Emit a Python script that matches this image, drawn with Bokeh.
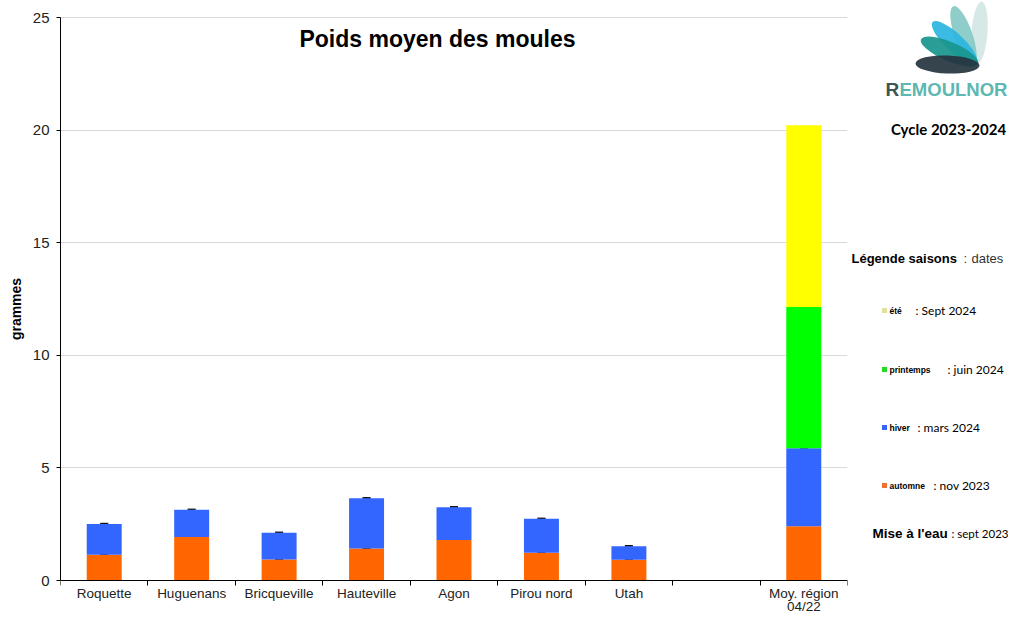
import numpy as np
from bokeh.plotting import figure
from bokeh.models import Range1d, FixedTicker, Label, ColumnDataSource, Whisker, TeeHead, LinearAxis
from bokeh.layouts import row
from bokeh.embed import file_html
from bokeh.resources import INLINE
from bokeh.core.properties import value

# ---------------- data ----------------
sites = ["Roquette", "Huguenans", "Bricqueville", "Hauteville", "Agon",
         "Pirou nord", "Utah", "", "Moy. région\n04/22"]
# segment heights (g) per season
automne = [1.14, 1.93, 0.93, 1.42, 1.80, 1.23, 0.92, 0.0, 2.41]
hiver = [1.37, 1.21, 1.19, 2.23, 1.45, 1.51, 0.60, 0.0, 3.46]
printemps = [0.0, 0.0, 0.0, 0.0, 0.0, 0.0, 0.0, 0.0, 6.27]
ete = [0.0, 0.0, 0.0, 0.0, 0.0, 0.0, 0.0, 0.0, 8.07]
err_automne = [0.03, 0.03, 0.03, 0.03, 0.03, 0.03, 0.03, 0.0, 0.0]
err_hiver = [0.03, 0.03, 0.03, 0.03, 0.03, 0.03, 0.03, 0.0, 0.55]
y_ticks = [0, 5, 10, 15, 20, 25]
y_max = 25

saisons = ["automne", "hiver", "printemps", "ete"]
colors = ["#FF6600", "#3366FF", "#00FF00", "#FFFF00"]

legend_names = ["été", "printemps", "hiver", "automne"]
legend_dates = [": Sept 2024", ":  juin 2024", ": mars 2024", ": nov 2023"]
legend_colors = ["#dfe39a", "#22dd22", "#3366FF", "#F07030"]

FONT = "Liberation Sans"
FONT2 = "Lato"

# ---------------- layout geometry (pixels) ----------------
W1, H = 850, 617
FRAME_L, FRAME_R, TOP_Y, ZERO_Y = 60, 847, 17, 580
ppu = (ZERO_Y - TOP_Y) / y_max
y_start = -(H - ZERO_Y) / ppu
y_end = y_max + TOP_Y / ppu

n = len(sites)
xc = np.arange(n) + 0.5
src = ColumnDataSource(dict(x=xc, automne=automne, hiver=hiver,
                            printemps=printemps, ete=ete))

p = figure(width=W1, height=H, x_range=Range1d(0, n), y_range=Range1d(y_start, y_end),
           output_backend="svg", toolbar_location=None, x_axis_location=None,
           min_border_left=FRAME_L, min_border_right=W1 - FRAME_R,
           min_border_top=0, min_border_bottom=0)
p.outline_line_color = None
p.background_fill_color = "white"
p.border_fill_color = "white"

p.vbar_stack(saisons, x="x", width=0.4, color=colors, source=src, line_width=0)

# error bars on top of segments
a = np.array(automne)
h = np.array(hiver)
ea = np.array(err_automne)
eh = np.array(err_hiver)
tops = np.concatenate([a, a + h])
errs = np.concatenate([ea, eh])
xs = np.concatenate([xc, xc])
mask = errs > 0
wsrc = ColumnDataSource(dict(x=xs[mask], lower=tops[mask], upper=(tops + errs)[mask]))
p.add_layout(Whisker(source=wsrc, base="x", lower="lower", upper="upper",
                     dimension="height", line_color="black", line_width=1,
                     upper_head=TeeHead(size=8, line_color="black", line_width=1),
                     lower_head=TeeHead(size=8, line_color="black", line_width=1)))

# grid
p.xgrid.visible = False
p.ygrid.grid_line_color = "#d9d9d9"
p.ygrid.ticker = FixedTicker(ticks=y_ticks)

# x axis fixed at y = 0
xaxis = LinearAxis(fixed_location=0, bounds=(0, n))
xaxis.ticker = FixedTicker(ticks=list(xc), minor_ticks=list(range(n + 1)))
xaxis.major_label_overrides = {float(x): s for x, s in zip(xc, sites)}
xaxis.major_tick_in = 0
xaxis.major_tick_out = 0
xaxis.minor_tick_in = 0
xaxis.minor_tick_out = 5
xaxis.minor_tick_line_color = "black"
xaxis.axis_line_color = "black"
xaxis.major_label_standoff = 0
xaxis.major_label_text_font = FONT
xaxis.major_label_text_font_size = "13.5px"
xaxis.major_label_text_line_height = 0.9
xaxis.major_label_text_color = "#222222"
p.add_layout(xaxis, "below")

p.yaxis.bounds = (0, y_max)
p.yaxis.ticker = FixedTicker(ticks=y_ticks)
p.yaxis.major_tick_in = 0
p.yaxis.major_tick_out = 4
p.yaxis.minor_tick_line_color = None
p.yaxis.axis_line_color = "black"
p.yaxis.major_tick_line_color = "black"
p.yaxis.major_label_standoff = 7
p.yaxis.major_label_text_font = FONT
p.yaxis.major_label_text_font_size = "15px"
p.yaxis.major_label_text_color = "#222222"
p.yaxis.axis_label = "grammes"
p.yaxis.axis_label_text_font = FONT
p.yaxis.axis_label_text_font_style = "bold"
p.yaxis.axis_label_text_font_size = "14px"
p.yaxis.axis_label_standoff = 6
p.yaxis.axis_label_text_color = "black"

p.add_layout(Label(x=437 - FRAME_L, y=H - 38, x_units="screen", y_units="screen",
                   text="Poids moyen des moules", text_align="center",
                   text_baseline="middle", text_font=FONT, text_font_style="bold",
                   text_font_size="23px", text_color="black"))

# ---------------- right panel ----------------
W2 = 1008 - W1
p2 = figure(width=W2, height=H, x_range=Range1d(0, W2), y_range=Range1d(0, H),
            output_backend="svg", toolbar_location=None, min_border=0,
            x_axis_location=None, y_axis_location=None)
p2.grid.visible = False
p2.outline_line_color = None


def X(rx):
    return rx - W1


def Y(ry):
    return H - ry


# logo
lx = [979, 963, 954, 949, 947]
ly = [32, 35, 42, 51, 64]
lw = [62, 62, 60, 62, 64]
lh = [16, 18, 18, 19, 18]
la = [86, 109, 137, 157, 178]
lc = ["#d3e7e5", "#86c9c6", "#2ab5e0", "#17958d", "#25343f"]
p2.ellipse(x=[X(v) for v in lx], y=[Y(v) for v in ly], width=lw, height=lh,
           angle=la, angle_units="deg", fill_color=lc, line_color=None,
           fill_alpha=0.92)
p2.text(x=[X(885)], y=[Y(89)], text=["R"], text_font=value(FONT),
        text_font_style="bold", text_font_size="19px", text_color="#3b5656",
        text_align="left", text_baseline="middle")
p2.text(x=[X(899)], y=[Y(89)], text=["EMOULNOR"], text_font=value(FONT),
        text_font_style="bold", text_font_size="18.5px", text_color="#5cb8b0",
        text_align="left", text_baseline="middle")

p2.text(x=[X(948)], y=[Y(128)], text=["Cycle 2023-2024"], text_font=value(FONT2),
        text_font_style="bold", text_font_size="15px", text_color="black",
        text_align="center", text_baseline="middle")

# legend
p2.text(x=[X(851)], y=[Y(258)], text=["Légende saisons"], text_font=value(FONT),
        text_font_style="bold", text_font_size="13px", text_color="black",
        text_align="left", text_baseline="middle")
p2.text(x=[X(963), X(971)], y=[Y(258), Y(258)], text=[":", "dates"],
        text_font=value(FONT), text_font_size="13px", text_color="#333333",
        text_align="left", text_baseline="middle")

leg_y = [310, 369, 427, 485]
name_x = [889, 889, 889, 889]
date_x = [915, 947, 917, 933]
p2.rect(x=[X(884)] * 4, y=[Y(v) for v in leg_y], width=5, height=5,
        fill_color=legend_colors, line_color=None)
p2.text(x=[X(v) for v in name_x], y=[Y(v) for v in leg_y], text=legend_names,
        text_font=value(FONT), text_font_style="bold", text_font_size="8.5px",
        text_color="black", text_align="left", text_baseline="middle")
p2.text(x=[X(v) for v in date_x], y=[Y(v) for v in leg_y], text=legend_dates,
        text_font=value(FONT2), text_font_size="12px", text_color="black",
        text_align="left", text_baseline="middle")

p2.text(x=[X(872)], y=[Y(533)], text=["Mise à l'eau"], text_font=value(FONT),
        text_font_style="bold", text_font_size="13.5px", text_color="black",
        text_align="left", text_baseline="middle")
p2.text(x=[X(951)], y=[Y(533)], text=[": sept 2023"], text_font=value(FONT2),
        text_font_size="11.5px", text_color="black",
        text_align="left", text_baseline="middle")

layout = row(p, p2)
open("out.html", "w").write(file_html(layout, INLINE))
